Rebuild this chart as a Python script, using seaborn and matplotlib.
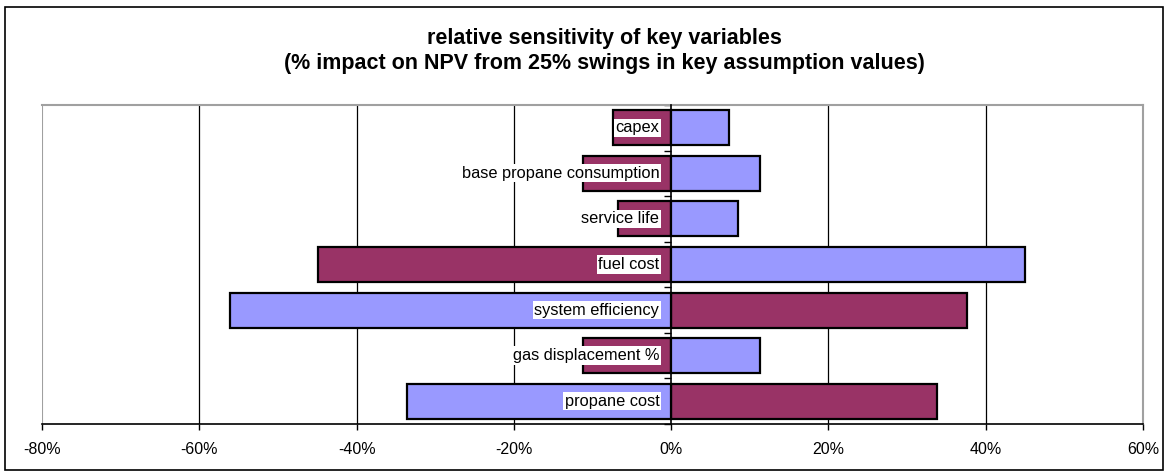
import pandas as pd
import matplotlib.pyplot as plt
import seaborn as sns
from matplotlib.patches import Rectangle
from matplotlib.ticker import FuncFormatter

# Data (% impact on NPV)
variables = ['capex', 'base propane consumption', 'service life', 'fuel cost',
             'system efficiency', 'gas displacement %', 'propane cost']
impact_maroon = [-7.4, -11.2, -6.7, -44.9, 37.6, -11.2, 33.8]
impact_blue = [7.4, 11.3, 8.5, 45.0, -56.1, 11.3, -33.6]

df = pd.DataFrame({
    'variable': variables * 2,
    'impact': impact_maroon + impact_blue,
    'swing': ['a'] * len(variables) + ['b'] * len(variables),
})

sns.set_style('white')
plt.rcParams['font.family'] = ['Liberation Sans', 'DejaVu Sans']
plt.rcParams['text.color'] = 'black'

fig = plt.figure(figsize=(11.68, 4.74), dpi=100)
ax = fig.add_axes([0.036, 0.1055, 0.9426, 0.673])

sns.barplot(data=df, y='variable', x='impact', hue='swing', orient='h', dodge=False,
            palette={'a': '#993366', 'b': '#9999FF'}, saturation=1,
            edgecolor='black', linewidth=1.6,
            width=0.77, legend=False, ax=ax, zorder=3)

ax.set_xlim(-80, 60)
ax.set_ylim(len(variables) - 0.5, -0.5)
ax.set_xticks(range(-80, 61, 20))
ax.xaxis.set_major_formatter(FuncFormatter(lambda v, p: f'{int(v)}%'))
ax.tick_params(axis='x', direction='out', length=4, width=1, colors='black',
               labelsize=11.5, pad=9, bottom=True)

# vertical gridlines
for g in range(-60, 60, 20):
    if g != 0:
        ax.axvline(g, color='black', lw=0.9, zorder=1)

# zero axis with category boundary ticks
ax.spines['left'].set_position(('data', 0))
ax.spines['left'].set_color('black')
ax.spines['left'].set_linewidth(1.2)
ax.spines['left'].set_zorder(4)
ax.set_yticks([i - 0.5 for i in range(len(variables) + 1)])
ax.set_yticklabels([])
ax.tick_params(axis='y', direction='out', length=5, width=1, colors='black', left=True)

ax.spines['bottom'].set_color('black')
ax.spines['bottom'].set_linewidth(1.2)
for s in ['top', 'right']:
    ax.spines[s].set_color('#a0a0a0')
    ax.spines[s].set_linewidth(1.5)
ax.axvline(-80, color='#a0a0a0', lw=1.5, zorder=1)

ax.set_xlabel('')
ax.set_ylabel('')

# category labels inside plot
for i, name in enumerate(variables):
    ax.text(-1.5, i, name, ha='right', va='center', fontsize=11.8, zorder=5, color='black',
            bbox=dict(facecolor='white', edgecolor='none', pad=1.2))

fig.text(0.5175, 0.918, 'relative sensitivity of key variables', ha='center', va='center',
         fontsize=15.5, fontweight='bold', color='black')
fig.text(0.5175, 0.867, '(% impact on NPV from 25% swings in key assumption values)',
         ha='center', va='center', fontsize=15.5, fontweight='bold', color='black')

fig.patches.append(Rectangle((5 / 1168, 4 / 474), 1158 / 1168, 463 / 474,
                             transform=fig.transFigure, fill=False,
                             edgecolor='black', lw=1.2))

fig.savefig('out.png', dpi=100)
